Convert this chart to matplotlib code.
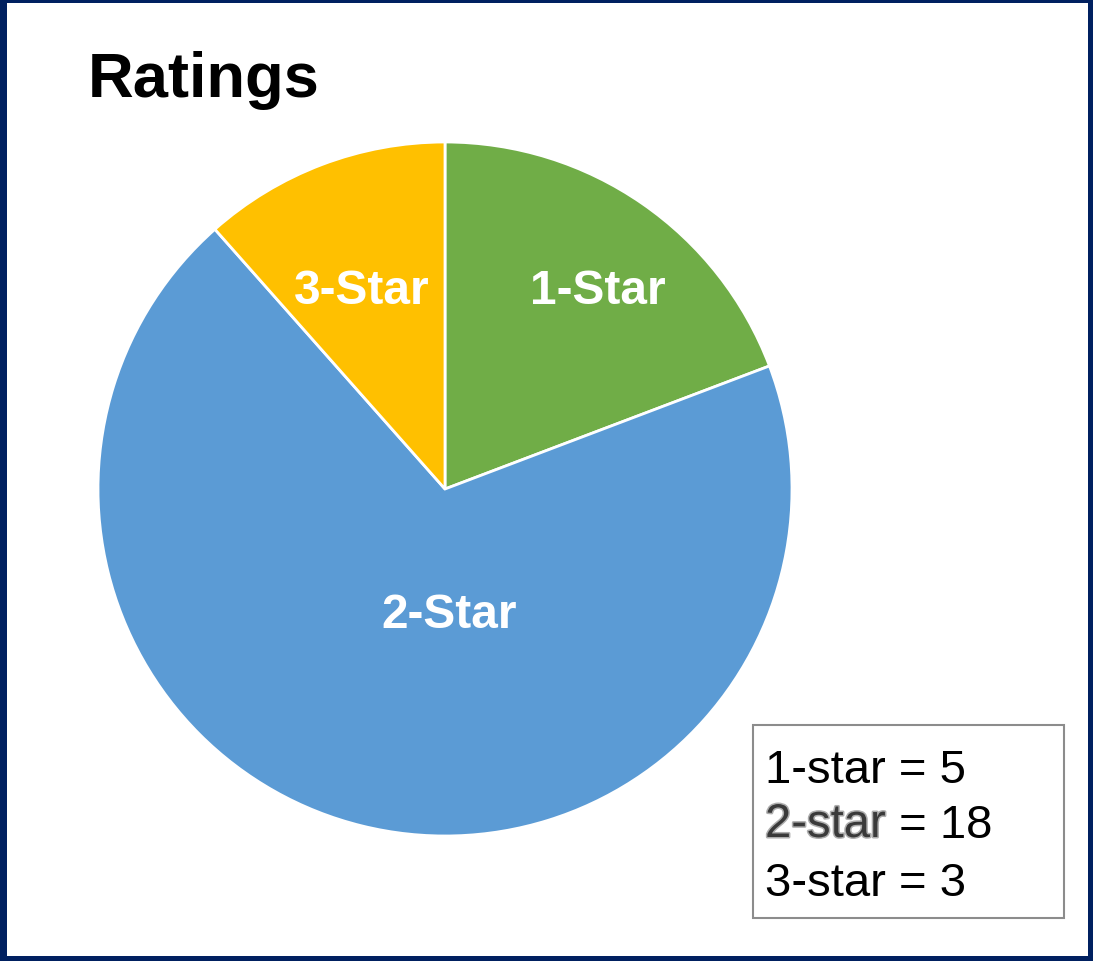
import matplotlib
matplotlib.use("Agg")
import matplotlib.pyplot as plt
import matplotlib.patheffects as pe
from matplotlib.patches import Rectangle

# data
categories = ["1-Star", "2-Star", "3-Star"]
counts = [5, 18, 3]
colors = ["#70AD47", "#5B9BD5", "#FFC000"]
legend_lines = ["1-star = 5", "2-star = 18", "3-star = 3"]

W, H = 1093, 962
plt.rcParams["font.family"] = ["Liberation Sans", "DejaVu Sans"]

fig = plt.figure(figsize=(W / 100, H / 100), dpi=100)
ax = fig.add_axes([0, 0, 1, 1])

# pie in pixel-like data coordinates (y up)
cx, cy, r = 445, H - 490, 347
ax.pie(
    counts,
    colors=colors,
    startangle=90,
    counterclock=False,
    center=(cx, cy),
    radius=r,
    frame=True,
    wedgeprops=dict(edgecolor="white", linewidth=2),
)
ax.set_xlim(0, W)
ax.set_ylim(0, H)
ax.set_aspect("equal")
ax.axis("off")

# slice labels
label_pos = [(598, 291), (449, 615), (362, 291)]
for name, (lx, ly) in zip(categories, label_pos):
    ax.text(lx, H - ly, name, color="white", fontsize=34.5, fontweight="bold",
            ha="center", va="center")

ax.text(88, H - 97, "Ratings", fontsize=45.5, fontweight="bold", color="black",
        ha="left", va="baseline")

# value box
ax.add_patch(Rectangle((753, H - 919), 311, 193, facecolor="white",
                       edgecolor="#8C8C8C", linewidth=1.5))
baselines = [783, 838, 896]
for i, (txt, by) in enumerate(zip(legend_lines, baselines)):
    if i == 1:
        name, rest = txt.split(" = ")
        t = ax.text(765, H - by, name, fontsize=34, color="#3A3A3A",
                    ha="left", va="baseline",
                    path_effects=[pe.withStroke(linewidth=2.2, foreground="#ADADAD")])
        fig.canvas.draw()
        bb = t.get_window_extent()
        ax.text(bb.x1, H - by, " = " + rest, fontsize=34, color="black",
                ha="left", va="baseline")
    else:
        ax.text(765, H - by, txt, fontsize=34, color="black",
                ha="left", va="baseline")

# navy frame
navy = "#002060"
for x0, y0, w, h in [(0, 0, 7, H), (W - 5, 0, 5, H), (0, 0, W, 5), (0, H - 4, W, 4)]:
    fig.patches.append(Rectangle((x0 / W, y0 / H), w / W, h / H, transform=fig.transFigure,
                                 facecolor=navy, edgecolor="none", figure=fig))

fig.savefig("out.png", dpi=100)
